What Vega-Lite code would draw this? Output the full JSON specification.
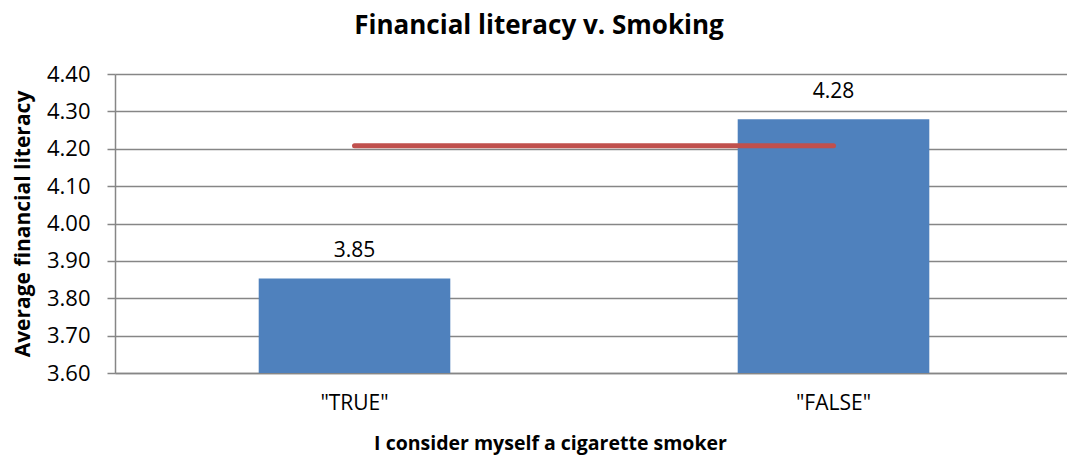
{
  "$schema": "https://vega.github.io/schema/vega-lite/v6.json",
  "width": 958,
  "height": 299,
  "autosize": {"type": "none"},
  "padding": {"left": 115, "top": 74, "right": -6, "bottom": 87},
  "background": "white",
  "config": {
    "font": "Open Sans",
    "view": {"stroke": null},
    "axisY": {
      "titleFont": "Open Sans",
      "titleFontSize": 21,
      "titleFontWeight": "bold",
      "titleColor": "#000000",
      "titleX": -86,
      "titleY": 149.5,
      "titleAngle": -90,
      "titleBaseline": "alphabetic",
      "titleAlign": "center",
      "labelOverlap": false,
      "labelFont": "Open Sans",
      "labelFontSize": 22,
      "labelColor": "#000000",
      "labelPadding": 17,
      "tickSize": 8,
      "tickColor": "#868686",
      "tickWidth": 1.5,
      "domainColor": "#868686",
      "domainWidth": 1.5,
      "grid": true,
      "gridColor": "#868686",
      "gridWidth": 1.5
    }
  },
  "title": {
    "text": "Financial literacy v. Smoking",
    "font": "Open Sans",
    "fontSize": 26,
    "fontWeight": "bold",
    "color": "#000000",
    "anchor": "middle",
    "baseline": "alphabetic",
    "offset": 3,
    "dx": -55
  },
  "data": {
    "values": [
      {"smoker": "\"TRUE\"", "avg": 3.853, "overall": 4.208},
      {"smoker": "\"FALSE\"", "avg": 4.279, "overall": 4.208}
    ]
  },
  "encoding": {
    "x": {
      "field": "smoker",
      "type": "nominal",
      "sort": null,
      "scale": {"paddingInner": 0.6, "paddingOuter": 0.3},
      "axis": {
        "title": "I consider myself a cigarette smoker",
        "titleFont": "Open Sans",
        "titleFontSize": 19.5,
        "titleFontWeight": "bold",
        "titleColor": "#000000",
        "titleX": 435,
        "titleY": 61,
        "titleBaseline": "top",
        "labelAngle": 0,
        "labelFont": "Open Sans",
        "labelFontSize": 21,
        "labelColor": "#000000",
        "labelPadding": 19,
        "ticks": false,
        "tickSize": 0,
        "domainColor": "#868686",
        "domainWidth": 1.5,
        "grid": false
      }
    }
  },
  "layer": [
    {
      "mark": {"type": "bar", "color": "#4F81BD"},
      "encoding": {
        "y": {
          "field": "avg",
          "type": "quantitative",
          "scale": {"domain": [3.6, 4.4], "zero": false, "nice": false},
          "axis": {
            "title": "Average financial literacy",
            "values": [3.6, 3.7, 3.8, 3.9, 4.0, 4.1, 4.2, 4.3, 4.4],
            "format": ".2f"
          }
        },
        "y2": {"datum": 3.6}
      }
    },
    {
      "mark": {"type": "text", "font": "Open Sans", "fontSize": 21, "color": "#000000", "baseline": "alphabetic", "dy": -21},
      "encoding": {
        "y": {
          "field": "avg",
          "type": "quantitative",
          "axis": {
            "title": "Average financial literacy",
            "values": [3.6, 3.7, 3.8, 3.9, 4.0, 4.1, 4.2, 4.3, 4.4],
            "format": ".2f"
          }
        },
        "text": {"field": "avg", "type": "quantitative", "format": ".2f"}
      }
    },
    {
      "mark": {"type": "line", "color": "#C0504D", "strokeWidth": 5, "strokeCap": "round"},
      "encoding": {
        "y": {
          "field": "overall",
          "type": "quantitative",
          "axis": {
            "title": "Average financial literacy",
            "values": [3.6, 3.7, 3.8, 3.9, 4.0, 4.1, 4.2, 4.3, 4.4],
            "format": ".2f"
          }
        }
      }
    }
  ]
}
